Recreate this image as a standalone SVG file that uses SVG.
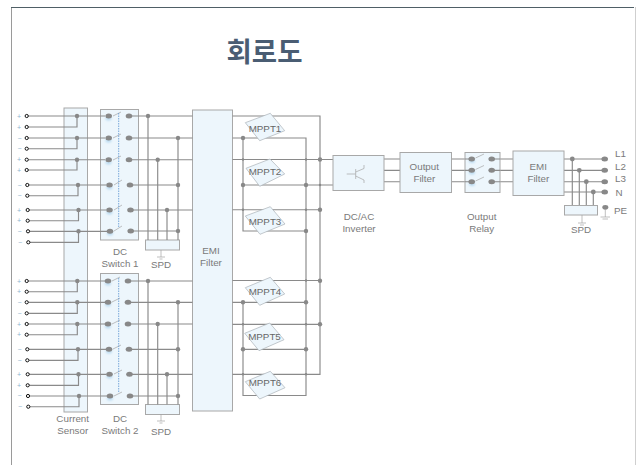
<svg xmlns="http://www.w3.org/2000/svg" width="636" height="465" viewBox="0 0 636 465">
<style>
text{font-family:"Liberation Sans",Arial,sans-serif;font-size:9.8px;fill:#7a7a7a;text-anchor:middle}
.title{font-family:"Noto Sans CJK KR",sans-serif;font-size:27.5px;font-weight:700;fill:#4a5d73}
.pm{font-size:7px;fill:#8fb4cf}
.l{text-anchor:start}
.box{fill:#edf6fc;stroke:#a8a8a8;stroke-width:1}
.m{fill:#edf6fc;stroke:#aab2b8;stroke-width:.7}
.mt{fill:#666}
.w{fill:none;stroke:#8a8a8a;stroke-width:1.15}
.t{fill:#fff;stroke:#111;stroke-width:1}
.d{fill:#888}
.d ellipse{rx:3.300px;ry:2.500px}
.g{fill:#bcdcf2;filter:url(#b)}
.bl{fill:none;stroke:#a5a5a5;stroke-width:.7}
.ds{fill:none;stroke:#5b93cf;stroke-width:.8;stroke-dasharray:1.5 1}
</style>
<defs>
<filter id="b" x="-50%" y="-50%" width="200%" height="200%"><feGaussianBlur stdDeviation="1"/></filter>
</defs>
<rect width="636" height="465" fill="#fff"/>
<path d="M11.5 465V7.5H634" fill="none" stroke="#9a9a9a"/>
<path d="M11 7.5H634" fill="none" stroke="#4f5f66"/>
<path d="M635.5 7V465" fill="none" stroke="#cfcfcf"/>
<text class="title" x="264.500" y="62">회로도</text>

<g id="current-sensor"><rect class="box" x="64" y="108" width="23.5" height="304"/><text x="72.7" y="422">Current</text><text x="72.7" y="434">Sensor</text></g>
<g id="dc-switch-1">
<rect class="box" x="100.5" y="109.500" width="38" height="130.500"/>
<g class="g"><ellipse cx="108.500" cy="118.500" rx="3" ry="2"/><ellipse cx="108.500" cy="140.500" rx="3" ry="2"/><ellipse cx="108.500" cy="162.500" rx="3" ry="2"/><ellipse cx="109.500" cy="187.500" rx="3" ry="2"/><ellipse cx="109.500" cy="212.500" rx="3" ry="2"/><ellipse cx="110" cy="233.500" rx="3" ry="2"/></g>
<path class="bl" d="M113 116L121 112M113 138L121 134M113 160L121 156M114 185L122 180M114 210L122 205M114 231L122 226"/>
<path class="ds" d="M118.700 113V228"/>
<text x="120" y="255">DC</text><text x="120" y="267">Switch 1</text>
</g>
<g id="dc-switch-2">
<rect class="box" x="100.500" y="273.500" width="38" height="131"/>
<g class="g"><ellipse cx="108" cy="283.500" rx="3" ry="2"/><ellipse cx="108" cy="304.500" rx="3" ry="2"/><ellipse cx="108" cy="326.500" rx="3" ry="2"/><ellipse cx="109" cy="351.500" rx="3" ry="2"/><ellipse cx="109.500" cy="376.500" rx="3" ry="2"/><ellipse cx="110" cy="398.500" rx="3" ry="2"/></g>
<path class="bl" d="M112 281L120 277M112 302L120 298M112 324L120 320M113 349L121 345M114 374L122 370M114 396L122 392"/>
<path class="ds" d="M118.700 278V393"/>
<text x="120" y="422">DC</text><text x="120" y="434">Switch 2</text>
</g>
<g id="spd-1"><rect class="box" x="145.500" y="240" width="34" height="10"/><path class="bl" d="M161 250V257M157 257H165M159.500 259H162.500"/><text x="161" y="268">SPD</text></g>
<g id="spd-2"><rect class="box" x="145.500" y="404.500" width="34" height="10"/><path class="bl" d="M161 414V421M157 421H165M159.500 423H162.500"/><text x="161" y="435">SPD</text></g>
<g id="emi-filter-1"><rect class="box" x="192.500" y="110" width="40" height="301"/><text x="211" y="254">EMI</text><text x="211" y="266">Filter</text></g>

<g id="connectors">
<path class="w" d="M28 116H105M28 127H77V116M28 138H105M28 148.700H77V138M28 159.700H105M28 170H77V159.700M28 185H106M28 195.700H78V185M29 210H106M29 220.700H78.500V210M29 231.300H107M29 242.300H78.500V231.300"/>
<path class="w" d="M28 281H105M28 291.700H77.300V281M28 302.300H105M28 313.300H77.300V302.300M28 324H105M28 334.700H77.300V324M29 349.300H106M29 360.300H78V349.300M29 374.300H106M29 385.300H78.500V374.300M29 396H107M29 406.700H79V396"/>
<path class="w" d="M129 116H192.500M129 138H192.500M129 159.700H192.500M130 185H178M130 210H192.500M130 231H178M148 116V240M157.700 159.700V240M167 210V240M178 138V240"/>
<path class="w" d="M128 281H192.500M128 302.300H192.500M128 324H192.500M129 349.300H178M129 374.300H192.500M130 396H178M148 281V404.500M157.700 324V404.500M167 374.300V404.500M178 302.300V404.500"/>
<path class="w" d="M232.500 116H320V374.300H232.500M232.500 138H306V395.500H243V302.300M243 138V231H306M232.500 159.500H333M243 185H333M232.500 209.700H320M232.500 280.500H320M232.500 302.300H306M232.500 324.300H320M243 349.300H306"/>
<path class="w" d="M384 159H400M384 170.300H400M384 181.700H400M451.500 159H469M451.500 170.300H469M451.500 181.700H469M494 159H513M494 170.300H513M494 181.700H513M564 159H605M564 170.300H605M564 181.700H605M564 192H605M572.300 159V205.500M579.300 170.300V205.500M586.300 181.700V205.500M593.300 192V205.500"/>
<g class="d">
<circle cx="77" cy="116" r="2.200"/><circle cx="77" cy="138" r="2.200"/><circle cx="77" cy="159.700" r="2.200"/><circle cx="78" cy="185" r="2.200"/><circle cx="78.500" cy="210" r="2.200"/><circle cx="78.500" cy="231.300" r="2.200"/>
<circle cx="77.300" cy="281" r="2.200"/><circle cx="77.300" cy="302.300" r="2.200"/><circle cx="77.300" cy="324" r="2.200"/><circle cx="78" cy="349.300" r="2.200"/><circle cx="78.500" cy="374.300" r="2.200"/><circle cx="79" cy="396" r="2.200"/>
<ellipse cx="108.700" cy="116" rx="3" ry="2.300"/><ellipse cx="108.700" cy="138" rx="3" ry="2.300"/><ellipse cx="108.700" cy="159.700" rx="3" ry="2.300"/><ellipse cx="109.500" cy="185" rx="3" ry="2.300"/><ellipse cx="109.500" cy="210" rx="3" ry="2.300"/><ellipse cx="110" cy="231.300" rx="3" ry="2.300"/>
<ellipse cx="129" cy="116" rx="3" ry="2.300"/><ellipse cx="129" cy="138" rx="3" ry="2.300"/><ellipse cx="129" cy="159.700" rx="3" ry="2.300"/><ellipse cx="130" cy="185" rx="3" ry="2.300"/><ellipse cx="130.500" cy="210" rx="3" ry="2.300"/><ellipse cx="130.700" cy="231" rx="3" ry="2.300"/>
<ellipse cx="108" cy="281" rx="3" ry="2.300"/><ellipse cx="108" cy="302.300" rx="3" ry="2.300"/><ellipse cx="108" cy="324" rx="3" ry="2.300"/><ellipse cx="109" cy="349.300" rx="3" ry="2.300"/><ellipse cx="109.500" cy="374.300" rx="3" ry="2.300"/><ellipse cx="110" cy="396" rx="3" ry="2.300"/>
<ellipse cx="128" cy="281" rx="3" ry="2.300"/><ellipse cx="128" cy="302.300" rx="3" ry="2.300"/><ellipse cx="128" cy="324" rx="3" ry="2.300"/><ellipse cx="129" cy="349.300" rx="3" ry="2.300"/><ellipse cx="129.500" cy="374.300" rx="3" ry="2.300"/><ellipse cx="130" cy="396" rx="3" ry="2.300"/>
<circle cx="148" cy="116" r="2.200"/><circle cx="178" cy="138" r="2.200"/><circle cx="157.700" cy="159.700" r="2.200"/><circle cx="178" cy="185" r="2.200"/><circle cx="167" cy="210" r="2.200"/><circle cx="178" cy="231" r="2.200"/>
<circle cx="148" cy="281" r="2.200"/><circle cx="178" cy="302.300" r="2.200"/><circle cx="157.700" cy="324" r="2.200"/><circle cx="178" cy="349.300" r="2.200"/><circle cx="167" cy="374.300" r="2.200"/><circle cx="178" cy="396" r="2.200"/>
<circle cx="243" cy="138" r="2.200"/><circle cx="243" cy="185" r="2.200"/><circle cx="306" cy="185" r="2.200"/><circle cx="320" cy="159.500" r="2.200"/><circle cx="320" cy="209.700" r="2.200"/><circle cx="306" cy="231" r="2.200"/>
<circle cx="243" cy="302.300" r="2.200"/><circle cx="306" cy="302.300" r="2.200"/><circle cx="320" cy="280.800" r="2.200"/><circle cx="320" cy="324.300" r="2.200"/><circle cx="243" cy="349.300" r="2.200"/><circle cx="306" cy="349.300" r="2.200"/>
<circle cx="243" cy="159.500" r="1.200"/><circle cx="306" cy="159.500" r="1.200"/><circle cx="243" cy="209.700" r="1.200"/><circle cx="306" cy="209.700" r="1.200"/><circle cx="320" cy="185" r="1.200"/><circle cx="306" cy="280.500" r="1.200"/><circle cx="243" cy="324.300" r="1.200"/><circle cx="306" cy="324.300" r="1.200"/><circle cx="243" cy="374.300" r="1.200"/><circle cx="306" cy="374.300" r="1.200"/>
<circle cx="572.300" cy="159" r="2.400"/><circle cx="579.300" cy="170.300" r="2.400"/><circle cx="586.300" cy="181.700" r="2.400"/><circle cx="593.300" cy="192" r="2.400"/>
<ellipse cx="604.700" cy="159" rx="3" ry="2.400"/><ellipse cx="604.700" cy="170.300" rx="3" ry="2.400"/><ellipse cx="604.700" cy="181.700" rx="3" ry="2.400"/><ellipse cx="604.700" cy="192" rx="3" ry="2.400"/>
</g>
<g class="t">
<circle cx="26.700" cy="116" r="1.600"/><circle cx="26.700" cy="127" r="1.600"/><circle cx="26.700" cy="138" r="1.600"/><circle cx="26.700" cy="148.700" r="1.600"/><circle cx="26.700" cy="159.700" r="1.600"/><circle cx="26.700" cy="170" r="1.600"/><circle cx="27.300" cy="185" r="1.600"/><circle cx="27.300" cy="195.700" r="1.600"/><circle cx="27.700" cy="210" r="1.600"/><circle cx="27.700" cy="220.700" r="1.600"/><circle cx="28" cy="231.300" r="1.600"/><circle cx="28.300" cy="242.300" r="1.600"/>
<circle cx="26.700" cy="281" r="1.600"/><circle cx="26.700" cy="291.700" r="1.600"/><circle cx="26.700" cy="302.300" r="1.600"/><circle cx="26.700" cy="313.300" r="1.600"/><circle cx="26.700" cy="324" r="1.600"/><circle cx="26.700" cy="334.700" r="1.600"/><circle cx="27.300" cy="349.300" r="1.600"/><circle cx="27.300" cy="360.300" r="1.600"/><circle cx="27.700" cy="374.300" r="1.600"/><circle cx="27.700" cy="385.300" r="1.600"/><circle cx="28" cy="396" r="1.600"/><circle cx="28.300" cy="406.700" r="1.600"/>
</g>
</g>

<g id="polarity">
<text class="pm" x="19" y="118.500">+</text><text class="pm" x="19" y="129.500">+</text><text class="pm" x="19.500" y="140.500">−</text><text class="pm" x="19.500" y="151">−</text><text class="pm" x="19" y="162">+</text><text class="pm" x="19" y="172.500">+</text><text class="pm" x="19.500" y="187.500">−</text><text class="pm" x="19.500" y="198">−</text><text class="pm" x="19" y="212.500">+</text><text class="pm" x="19" y="223">+</text><text class="pm" x="19.500" y="233.500">−</text><text class="pm" x="20" y="244.500">−</text>
<text class="pm" x="19" y="283.500">+</text><text class="pm" x="19" y="294">+</text><text class="pm" x="19.500" y="304.500">−</text><text class="pm" x="19.500" y="315.500">−</text><text class="pm" x="19" y="326.500">+</text><text class="pm" x="19" y="337">+</text><text class="pm" x="19.500" y="351.500">−</text><text class="pm" x="19.500" y="362.500">−</text><text class="pm" x="19" y="376.500">+</text><text class="pm" x="19" y="387.500">+</text><text class="pm" x="19.500" y="398">−</text><text class="pm" x="20" y="409">−</text>
</g>

<g id="mppt1"><polygon class="m" points="245.300,122.700 270.300,113.300 284.700,130.700 259.700,140.700"/><text class="mt" x="265" y="132">MPPT1</text></g>
<g id="mppt2"><polygon class="m" points="246,168.300 270,159 284.700,174 259.700,186.300"/><text class="mt" x="265" y="175">MPPT2</text></g>
<g id="mppt3"><polygon class="m" points="245.300,216 270.300,206.700 285,224 260,234.300"/><text class="mt" x="265" y="224.500">MPPT3</text></g>
<g id="mppt4"><polygon class="m" points="245.300,287.700 270.300,277.300 284.700,294 259.700,305.300"/><text class="mt" x="265" y="294.500">MPPT4</text></g>
<g id="mppt5"><polygon class="m" points="244.700,333.300 269.700,323 284,339.700 259,350.700"/><text class="mt" x="264.500" y="340">MPPT5</text></g>
<g id="mppt6"><polygon class="m" points="245.300,381.700 270.300,371.300 285,387.700 259.700,399"/><text class="mt" x="265" y="386">MPPT6</text></g>

<g id="inverter"><rect class="box" x="333" y="155.500" width="51" height="35"/><path class="bl" d="M346.700 174H355.700M355.700 169V179M355.700 172L364 168.500V165M355.700 176L364 180V183"/><text x="359" y="220">DC/AC</text><text x="359" y="232">Inverter</text></g>
<g id="output-filter"><rect class="box" x="400" y="152.500" width="51.500" height="40"/><text x="424.300" y="170">Output</text><text x="424.300" y="182">Filter</text></g>
<g id="output-relay"><rect class="box" x="465" y="152.500" width="35" height="40"/>
<g class="g"><ellipse cx="472" cy="161" rx="3" ry="2"/><ellipse cx="472" cy="172.500" rx="3" ry="2"/><ellipse cx="472" cy="184" rx="3" ry="2"/></g>
<path class="bl" d="M475.500 158L484 154M475.500 169.500L484 165.500M475.500 181L484 177"/>
<path class="w" d="M465 159H469M465 170.300H469M465 181.700H469M494 159H500M494 170.300H500M494 181.700H500"/>
<g class="d"><ellipse cx="471.700" cy="159" rx="3" ry="2.300"/><ellipse cx="471.700" cy="170.300" rx="3" ry="2.300"/><ellipse cx="471.700" cy="181.700" rx="3" ry="2.300"/><ellipse cx="491.700" cy="159" rx="3" ry="2.300"/><ellipse cx="491.700" cy="170.300" rx="3" ry="2.300"/><ellipse cx="491.700" cy="181.700" rx="3" ry="2.300"/></g>
<text x="481.700" y="220">Output</text><text x="481.700" y="232">Relay</text></g>
<g id="emi-filter-2"><rect class="box" x="513" y="151" width="51" height="44.500"/><text x="538.300" y="170">EMI</text><text x="538.300" y="182">Filter</text></g>
<g id="spd-3"><rect class="box" x="564.500" y="205.500" width="33" height="9.500"/><path class="bl" d="M582 215V223M578 223H586M580 225H584"/><text x="581" y="233">SPD</text></g>
<g id="outputs">
<text class="l" x="615" y="157">L1</text><text class="l" x="615" y="169.500">L2</text><text class="l" x="615" y="182">L3</text><text class="l" x="615.500" y="196">N</text>
<ellipse class="d" cx="605.300" cy="207.300" rx="3" ry="2.400"/><path class="bl" d="M605.300 209V217M600.500 217H610M602.500 219H608"/><text class="l" x="614" y="214">PE</text>
</g>
</svg>
